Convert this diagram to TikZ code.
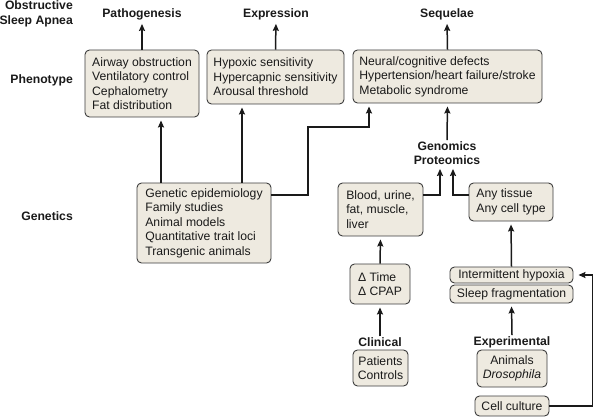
\documentclass[tikz,border=0pt]{standalone}
\usepackage{fontspec}
\setmainfont{Liberation Sans}
\usetikzlibrary{arrows.meta}
\definecolor{ink}{HTML}{1A1A1A}
\definecolor{boxedge}{HTML}{3C3C3C}
\definecolor{boxfill}{HTML}{EEEAE0}

\begin{document}
\begin{tikzpicture}[x=1pt, y=-1pt, font=\fontsize{12.2}{14.5}\selectfont]
  % one unit = one pixel of the 594x417 frame, y counted downwards
  \useasboundingbox (0,0) rectangle (594,417);
  \tikzset{
    panel/.style={draw=boxedge, fill=boxfill, line width=0.9pt,
                  rounded corners=4.5pt, align=left, inner sep=0pt, text=ink},
    panelc/.style={panel, align=center},
    head/.style={font=\fontsize{12.2}{14.5}\selectfont\bfseries, text=ink,
                 inner sep=1pt, align=center},
    rowhead/.style={head, anchor=east, align=right},
    arr/.style={draw=ink, line width=1.5pt,
                -{Stealth[length=7pt, width=6pt, inset=1pt]}, shorten >=3pt}}

  % ========== row labels on the left =======================================
  \node[rowhead] (osa)   at (74,14)  {Obstructive\\Sleep Apnea};
  \node[rowhead] (pheno) at (74,80)  {Phenotype};
  \node[rowhead] (genet) at (74,216) {Genetics};

  % ========== top: the three outcomes ======================================
  \node[head] (patho) at (142,14) {Pathogenesis};
  \node[head] (expr)  at (276,14) {Expression};
  \node[head] (seq)   at (447,14) {Sequelae};

  % ========== phenotype row ================================================
  \node[panel, minimum width=114pt, minimum height=67pt] (pathobox) at (142,83.5)
    {Airway obstruction\\Ventilatory control\\Cephalometry\\Fat distribution};
  \node[panel, minimum width=137pt, minimum height=54pt] (exprbox) at (275.5,77)
    {Hypoxic sensitivity\\Hypercapnic sensitivity\\Arousal threshold};
  \node[panel, minimum width=189pt, minimum height=53pt] (seqbox) at (447.5,76.5)
    {Neural/cognitive defects\\Hypertension/heart failure/stroke\\Metabolic syndrome};

  % ========== genetics and the omics branch ================================
  \node[panel, minimum width=134pt, minimum height=80pt] (genbox) at (204,223)
    {Genetic epidemiology\\Family studies\\Animal models\\Quantitative trait loci\\Transgenic animals};
  \node[head] (omics) at (447,153) {Genomics\\Proteomics};
  \node[panel, minimum width=85pt, minimum height=53pt] (fluidbox) at (380.5,209.5)
    {Blood, urine,\\fat, muscle,\\liver};
  \node[panel, minimum width=84pt, minimum height=38pt] (tissuebox) at (511,202)
    {Any tissue\\Any cell type};

  % --- clinical column
  \node[panel, minimum width=60pt, minimum height=40pt] (deltabox) at (380,284)
    {Δ Time\\Δ CPAP};
  \node[head] (clin) at (380,342) {Clinical};
  \node[panelc, minimum width=55pt, minimum height=36pt] (patientbox) at (380.5,368)
    {Patients\\Controls};

  % --- experimental column
  \node[panelc, minimum width=123pt, minimum height=16pt] (hypoxbox) at (511.5,275)
    {Intermittent hypoxia};
  \node[panelc, minimum width=123pt, minimum height=18pt] (sleepbox) at (511.5,294)
    {Sleep fragmentation};
  \node[head] (exper) at (512,342) {Experimental};
  \node[panelc, minimum width=70pt, minimum height=37pt] (animalbox) at (512,368.5)
    {Animals\\\textit{Drosophila}};
  \node[panelc, minimum width=74pt, minimum height=20pt] (cellbox) at (512,406)
    {Cell culture};

  % ========== connectors ===================================================
  \draw[arr] (pathobox.north) -- (patho.south);
  \draw[arr] (exprbox.north)  -- (expr.south);
  \draw[arr] (seqbox.north)   -- (seq.south);

  \draw[arr] ([xshift=-43pt]genbox.north) -- ([xshift=-43pt]genbox.north |- pathobox.south);
  \draw[arr] ([xshift=38pt]genbox.north)  -- ([xshift=38pt]genbox.north |- exprbox.south);
  \draw[arr] ([yshift=28pt]genbox.east) -| (308,127) -| ([xshift=-78.5pt]seqbox.south);

  \draw[arr] (omics.north) -- (seqbox.south);
  \draw[arr] ([yshift=14.5pt]fluidbox.east) -| ([xshift=-7pt]omics.south);
  \draw[arr] ([yshift=7pt]tissuebox.west)   -| ([xshift=6pt]omics.south);

  \draw[arr] (deltabox.north) -- (fluidbox.south);
  \draw[arr] (clin.north)     -- (deltabox.south);
  \draw[arr] (hypoxbox.north) -- (tissuebox.south);
  \draw[arr] (exper.north)    -- (sleepbox.south);
  \draw[arr, shorten >=5pt] (cellbox.east) -- ++(43,0) |- (hypoxbox.east);
\end{tikzpicture}
\end{document}
